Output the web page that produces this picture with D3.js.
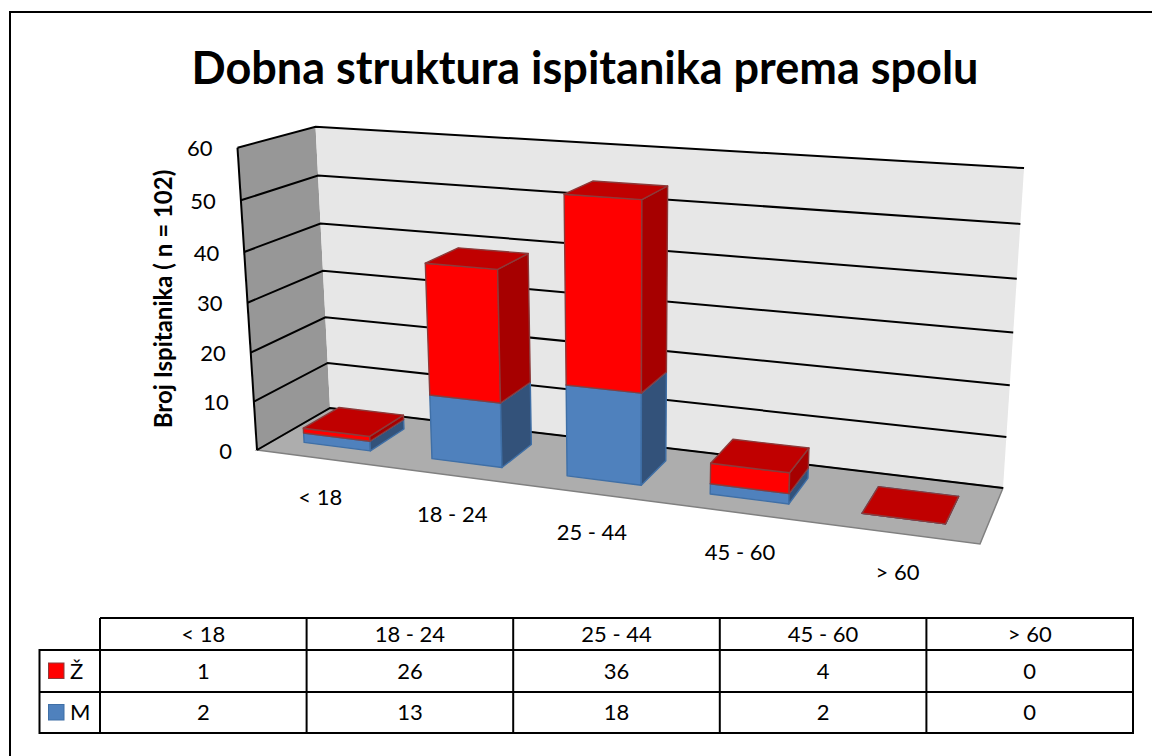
<!DOCTYPE html>
<html>
<head>
<meta charset="utf-8">
<script src="https://cdn.jsdelivr.net/npm/d3@7"></script>
<style>
  html, body { margin: 0; padding: 0; background: #fff; }
  svg { display: block; font-family: Lato, "Open Sans", sans-serif; }
</style>
</head>
<body>
<svg id="chart" width="1152" height="756"></svg>
<script>
const categories = ["< 18", "18 - 24", "25 - 44", "45 - 60", "> 60"];
const seriesNames = ["M", "Ž"];
const valuesM = [2, 13, 18, 2, 0];
const valuesZ = [1, 26, 36, 4, 0];
const yTicks = [0, 10, 20, 30, 40, 50, 60];

const colors = {
  "Ž": { front: "#ff0000", side: "#a60000", top: "#c00000", stroke: "#8c3a3a" },
  "M": { front: "#4f81bd", side: "#33527a", top: "#3f6797", stroke: "#3f6fa6" }
};

const svg = d3.select("#chart");

// corners of the 3D box on screen, the rest comes from the projection
const O = [257, 450], X = [980, 544], Y = [330, 408], XY = [1003, 488], Z = [237.5, 147.7];

// floor homography (unit square to quad) plus a vertical term
const sx = O[0] - X[0] + XY[0] - Y[0], sy = O[1] - X[1] + XY[1] - Y[1];
const d1x = X[0] - XY[0], d1y = X[1] - XY[1], d2x = Y[0] - XY[0], d2y = Y[1] - XY[1];
const det = d1x * d2y - d2x * d1y;
const p = (sx * d2y - d2x * sy) / det;
const q = (d1x * sy - sx * d1y) / det;
const r = -0.05;
const ax = i => X[i] * (1 + p) - O[i];
const bx = i => Y[i] * (1 + q) - O[i];
const cx = i => Z[i] * (1 + r) - O[i];

function project(u, v, w) {
  const d = 1 + p * u + q * v + r * w;
  return [
    (O[0] + ax(0) * u + bx(0) * v + cx(0) * w) / d,
    (O[1] + ax(1) * u + bx(1) * v + cx(1) * w) / d
  ];
}

const xScale = d3.scaleBand().domain(categories).range([0, 0.995]).paddingInner(0.475).paddingOuter(0.225);
const labelScale = d3.scaleBand().domain(categories).range([0, 1]);
const zScale = d3.scaleLinear().domain([0, 60]).range([0, 1]);
const depthFront = 0.25, depthBack = 0.75;

const poly = pts => d3.line()(pts) + "Z";

// walls and floor
svg.append("path")
  .attr("d", poly([project(0, 0, 0), project(0, 1, 0), project(0, 1, 1), project(0, 0, 1)]))
  .attr("fill", "#979797");
svg.append("path")
  .attr("d", poly([project(0, 1, 0), project(1, 1, 0), project(1, 1, 1), project(0, 1, 1)]))
  .attr("fill", "#e7e7e7");
svg.append("path")
  .attr("d", poly([project(0, 0, 0), project(1, 0, 0), project(1, 1, 0), project(0, 1, 0)]))
  .attr("fill", "#adadad")
  .attr("stroke", "#808080")
  .attr("stroke-width", 1.5);

// gridlines run along the side wall and the back wall
const gridPath = d3.line();
svg.append("g").selectAll("path")
  .data(yTicks)
  .join("path")
  .attr("d", d => gridPath([project(0, 0, zScale(d)), project(0, 1, zScale(d)), project(1, 1, zScale(d))]))
  .attr("fill", "none")
  .attr("stroke", "#000")
  .attr("stroke-width", 2);
svg.append("path")
  .attr("d", gridPath([project(0, 0, 0), project(0, 0, 1)]))
  .attr("stroke", "#000")
  .attr("stroke-width", 2);

// y tick labels
svg.append("g").selectAll("text")
  .data(yTicks)
  .join("text")
  .attr("x", d => project(0, 0, zScale(d))[0] - 25)
  .attr("y", d => project(0, 0, zScale(d))[1] + 1)
  .attr("dy", "0.35em")
  .attr("text-anchor", "end")
  .attr("font-size", 22)
  .text(d => d);

// stacked bars, M at the bottom
const rows = categories.map((c, i) => ({ category: c, "M": valuesM[i], "Ž": valuesZ[i] }));
const stacked = d3.stack().keys(seriesNames)(rows);

const bars = [];
categories.forEach((c, i) => {
  stacked.forEach(s => bars.push({ key: s.key, category: c, y0: s[i][0], y1: s[i][1] }));
});

const barGroup = svg.append("g").selectAll("g")
  .data(bars)
  .join("g")
  .attr("stroke-width", 1.4)
  .attr("stroke-linejoin", "round")
  .attr("stroke", d => colors[d.key].stroke);

const u0 = d => xScale(d.category);
const u1 = d => xScale(d.category) + xScale.bandwidth();

barGroup.append("path")
  .attr("fill", d => colors[d.key].front)
  .attr("d", d => poly([
    project(u0(d), depthFront, zScale(d.y0)), project(u1(d), depthFront, zScale(d.y0)),
    project(u1(d), depthFront, zScale(d.y1)), project(u0(d), depthFront, zScale(d.y1))
  ]));
barGroup.append("path")
  .attr("fill", d => colors[d.key].side)
  .attr("d", d => poly([
    project(u1(d), depthFront, zScale(d.y0)), project(u1(d), depthBack, zScale(d.y0)),
    project(u1(d), depthBack, zScale(d.y1)), project(u1(d), depthFront, zScale(d.y1))
  ]));
barGroup.append("path")
  .attr("fill", d => colors[d.key].top)
  .attr("d", d => poly([
    project(u0(d), depthFront, zScale(d.y1)), project(u1(d), depthFront, zScale(d.y1)),
    project(u1(d), depthBack, zScale(d.y1)), project(u0(d), depthBack, zScale(d.y1))
  ]));

// category labels under the floor
const labelMid = d => labelScale(d) + labelScale.bandwidth() / 2;
svg.append("g").selectAll("text")
  .data(categories)
  .join("text")
  .attr("x", d => project(labelMid(d), 0, 0)[0])
  .attr("y", d => project(labelMid(d), 0, 0)[1] + 39)
  .attr("dy", "0.35em")
  .attr("text-anchor", "middle")
  .attr("font-size", 22)
  .text(d => d);

// title and axis title
svg.append("text")
  .attr("x", 585)
  .attr("y", 84)
  .attr("text-anchor", "middle")
  .attr("font-size", 45)
  .attr("font-weight", 700)
  .text("Dobna struktura ispitanika prema spolu");
svg.append("text")
  .attr("transform", "translate(172,299) rotate(-90)")
  .attr("text-anchor", "middle")
  .attr("font-size", 24)
  .attr("font-weight", 700)
  .text("Broj Ispitanika ( n = 102)");

// outer frame, only top and left show
svg.append("path")
  .attr("d", "M10,756V12H1152")
  .attr("fill", "none")
  .attr("stroke", "#000")
  .attr("stroke-width", 2);

// data table
const colX = d3.scalePoint().domain(d3.range(categories.length + 1)).range([100, 1133]);
const rowY = [618, 650, 692, 733];
const tableRows = [
  { name: "Ž", values: valuesZ },
  { name: "M", values: valuesM }
];
const table = svg.append("g").attr("stroke", "#000").attr("stroke-width", 2);
table.append("path")
  .attr("fill", "none")
  .attr("d", `M100,${rowY[0]}H1133V${rowY[3]}H39.5V${rowY[1]}H1133M39.5,${rowY[2]}H1133`);
table.selectAll("line")
  .data(d3.range(categories.length))
  .join("line")
  .attr("x1", d => colX(d))
  .attr("x2", d => colX(d))
  .attr("y1", rowY[0])
  .attr("y2", rowY[3]);

const cellText = (x, y, t) => svg.append("text")
  .attr("x", x).attr("y", y).attr("dy", "0.35em")
  .attr("text-anchor", "middle").attr("font-size", 22).text(t);

categories.forEach((c, i) => {
  const mid = (colX(i) + colX(i + 1)) / 2;
  cellText(mid, 634, c);
  tableRows.forEach((row, j) => cellText(mid, (rowY[j + 1] + rowY[j + 2]) / 2, row.values[i]));
});

tableRows.forEach((row, j) => {
  const cy = (rowY[j + 1] + rowY[j + 2]) / 2;
  svg.append("rect")
    .attr("x", 48.5).attr("y", cy - 8).attr("width", 15.5).attr("height", 15.5)
    .attr("fill", colors[row.name].front)
    .attr("stroke", colors[row.name].stroke)
    .attr("stroke-width", 1);
  svg.append("text")
    .attr("x", 70).attr("y", cy).attr("dy", "0.35em")
    .attr("font-size", 22)
    .text(row.name);
});
</script>
</body>
</html>
